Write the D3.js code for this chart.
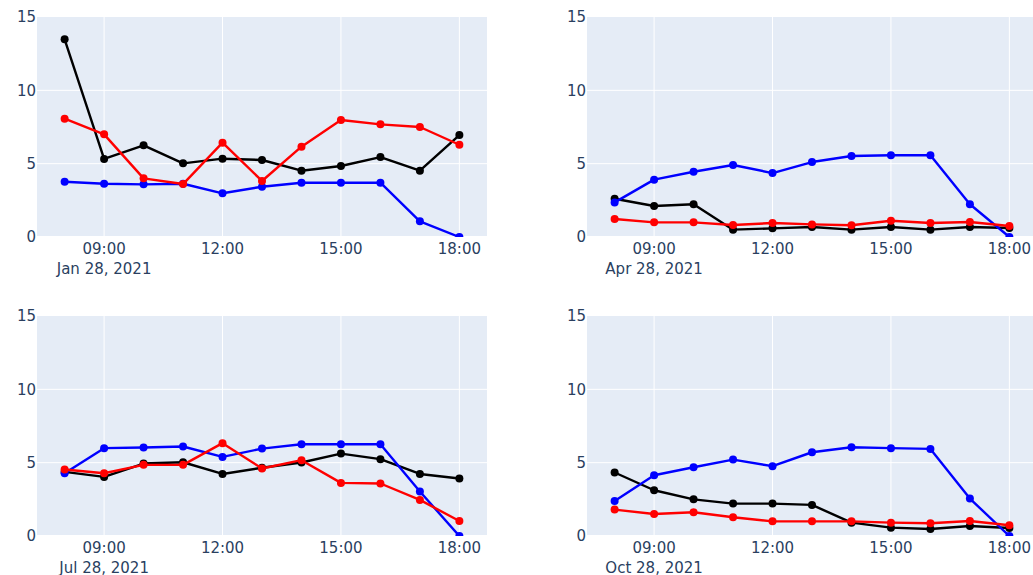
<!DOCTYPE html>
<html>
<head>
<meta charset="utf-8">
<script src="https://cdn.jsdelivr.net/npm/d3@7"></script>
<style>
  body { margin: 0; background: #fff; }
  svg text { font-family: "DejaVu Sans", Verdana, sans-serif; fill: #2a3f5f; }
</style>
</head>
<body>
<div id="chart"></div>
<script>
// --- Data ---
const days = ["2021-01-28", "2021-04-28", "2021-07-28", "2021-10-28"];
const hours = [8, 9, 10, 11, 12, 13, 14, 15, 16, 17, 18];
const yTicks = [0, 5, 10, 15];

const blackVals = [
  [13.48, 5.32, 6.25, 5.02, 5.34, 5.25, 4.52, 4.84, 5.45, 4.52, 6.95],
  [2.61, 2.11, 2.23, 0.50, 0.59, 0.68, 0.50, 0.68, 0.50, 0.68, 0.61],
  [4.37, 4.03, 4.94, 5.03, 4.23, 4.65, 5.01, 5.62, 5.24, 4.23, 3.92],
  [4.33, 3.12, 2.50, 2.21, 2.21, 2.12, 0.91, 0.57, 0.48, 0.68, 0.55]
];
const blueVals = [
  [3.77, 3.63, 3.59, 3.63, 2.98, 3.43, 3.70, 3.70, 3.70, 1.07, 0],
  [2.36, 3.91, 4.45, 4.91, 4.36, 5.11, 5.52, 5.57, 5.57, 2.23, 0],
  [4.28, 5.99, 6.03, 6.10, 5.39, 5.96, 6.26, 6.26, 6.26, 3.03, 0],
  [2.39, 4.14, 4.69, 5.21, 4.76, 5.71, 6.05, 5.99, 5.94, 2.55, 0]
];
const redVals = [
  [8.07, 7.00, 4.00, 3.61, 6.43, 3.82, 6.16, 7.98, 7.68, 7.50, 6.29],
  [1.23, 1.00, 1.00, 0.82, 0.95, 0.86, 0.80, 1.11, 0.95, 1.02, 0.75],
  [4.53, 4.28, 4.85, 4.85, 6.33, 4.60, 5.17, 3.62, 3.58, 2.46, 1.02],
  [1.80, 1.50, 1.62, 1.28, 1.00, 1.00, 1.00, 0.91, 0.87, 1.02, 0.73]
];

// --- Layout ---
const W = 1033, H = 575;
const pw = 450, ph = 220;
const origins = [[37, 17], [587, 17], [37, 316], [587, 316]];

const svg = d3.select("#chart").append("svg")
  .attr("width", W)
  .attr("height", H);

const parseDay = d3.timeParse("%Y-%m-%d");
const fmtDay = d3.timeFormat("%b %d, %Y");
const fmtHour = d3.timeFormat("%H:%M");

days.forEach((day, i) => {
  const base = parseDay(day);
  const at = (h, m = 0) => new Date(base.getFullYear(), base.getMonth(), base.getDate(), h, m);
  const [ox, oy] = origins[i];

  const x = d3.scaleTime()
    .domain([at(7, 18), at(18, 42)])
    .range([0, pw]);
  const y = d3.scaleLinear()
    .domain([0, 15])
    .range([ph, 0]);

  const g = svg.append("g").attr("transform", `translate(${ox},${oy})`);

  // nền
  g.append("rect")
    .attr("width", pw)
    .attr("height", ph)
    .attr("fill", "#E5ECF6");

  const xTicks = [9, 12, 15, 18].map(h => at(h));

  // lưới
  g.selectAll(".vgrid")
    .data(xTicks)
    .enter().append("line")
      .attr("x1", d => x(d)).attr("x2", d => x(d))
      .attr("y1", 0).attr("y2", ph)
      .attr("stroke", "#fff").attr("stroke-width", 1);
  g.selectAll(".hgrid")
    .data(yTicks.filter(v => v > 0 && v < 15))
    .enter().append("line")
      .attr("x1", 0).attr("x2", pw)
      .attr("y1", d => y(d)).attr("y2", d => y(d))
      .attr("stroke", "#fff").attr("stroke-width", 1);
  g.append("line")
    .attr("x1", 0).attr("x2", pw)
    .attr("y1", y(0)).attr("y2", y(0))
    .attr("stroke", "#fff").attr("stroke-width", 2);

  // trục Y
  g.selectAll(".ylab")
    .data(yTicks)
    .enter().append("text")
      .attr("x", -1)
      .attr("y", d => y(d))
      .attr("dy", "0.36em")
      .attr("text-anchor", "end")
      .style("font-size", "15px")
      .text(d => d);

  // trục X
  g.selectAll(".xlab")
    .data(xTicks)
    .enter().append("text")
      .attr("x", d => x(d))
      .attr("y", ph + 16.5)
      .attr("text-anchor", "middle")
      .style("font-size", "15px")
      .text(d => fmtHour(d));
  g.append("text")
    .attr("x", x(xTicks[0]))
    .attr("y", ph + 36.5)
    .attr("text-anchor", "middle")
    .style("font-size", "15px")
    .text(fmtDay(base));

  // clip
  const clipId = "clip" + i;
  g.append("clipPath").attr("id", clipId)
    .append("rect").attr("width", pw).attr("height", ph);
  const plot = g.append("g").attr("clip-path", `url(#${clipId})`);

  const series = [
    { color: "black", vals: blackVals[i] },
    { color: "blue", vals: blueVals[i] },
    { color: "red", vals: redVals[i] }
  ];

  const line = d3.line()
    .x(d => x(at(d.h)))
    .y(d => y(d.v));

  series.forEach(s => {
    const pts = hours.map((h, k) => ({ h: h, v: s.vals[k] }));
    plot.append("path")
      .attr("fill", "none")
      .attr("stroke", s.color)
      .attr("stroke-width", 2.4)
      .attr("stroke-linejoin", "round")
      .attr("d", line(pts));
    plot.selectAll(null)
      .data(pts)
      .enter().append("circle")
        .attr("cx", d => x(at(d.h)))
        .attr("cy", d => y(d.v))
        .attr("r", 4)
        .attr("fill", s.color);
  });
});
</script>
</body>
</html>
